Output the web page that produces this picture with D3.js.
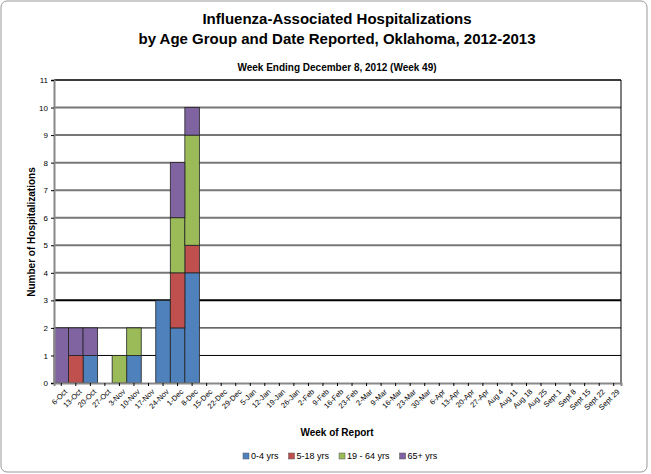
<!DOCTYPE html>
<html><head><meta charset="utf-8">
<script src="https://cdn.jsdelivr.net/npm/d3@7/dist/d3.min.js"></script>
<style>body{margin:0;background:#fff;font-family:Arial,"Liberation Sans",sans-serif}</style>
</head><body>
<svg id="c" width="651" height="474"></svg>
<script>
const weeks = ['6-Oct','13-Oct','20-Oct','27-Oct','3-Nov','10-Nov','17-Nov','24-Nov','1-Dec','8-Dec','15-Dec','22-Dec','29-Dec',
  '5-Jan','12-Jan','19-Jan','26-Jan','2-Feb','9-Feb','16-Feb','23-Feb','2-Mar','9-Mar','16-Mar','23-Mar','30-Mar',
  '6-Apr','13-Apr','20-Apr','27-Apr','Aug 4','Aug 11','Aug 18','Aug 25','Sept 1','Sept 8','Sept 15','Sept 22','Sept 29'];
// counts per week: [0-4, 5-18, 19-64, 65+]
const counts = {
  '6-Oct': [0,0,0,2], '13-Oct': [0,1,0,1], '20-Oct': [1,0,0,1], '3-Nov': [0,0,1,0],
  '10-Nov': [1,0,1,0], '24-Nov': [3,0,0,0], '1-Dec': [2,2,2,2], '8-Dec': [4,1,4,1]
};
const keys = ['0-4 yrs','5-18 yrs','19 - 64 yrs','65+ yrs'];
const colors = ['#4f81bd','#c0504d','#9bbb59','#8064a2'];
const data = weeks.map(w => { const c = counts[w] || [0,0,0,0]; const o = {week: w}; keys.forEach((k,i) => o[k] = c[i]); return o; });

const svg = d3.select('#c');
svg.append('rect').attr('x',1).attr('y',1).attr('width',646).attr('height',471).attr('rx',6)
  .style('fill','#fff').style('stroke','#999');

svg.append('text').attr('x',337).attr('y',24).attr('text-anchor','middle').style('font-size','15px').style('font-weight','bold').text('Influenza-Associated Hospitalizations');
svg.append('text').attr('x',337).attr('y',44).attr('text-anchor','middle').style('font-size','15px').style('font-weight','bold').text('by Age Group and Date Reported, Oklahoma, 2012-2013');
svg.append('text').attr('x',337).attr('y',71).attr('text-anchor','middle').style('font-size','10px').style('font-weight','bold').text('Week Ending December 8, 2012 (Week 49)');

const L = 54, R = 621, T = 80, B = 383;
const x = d3.scaleBand().domain(weeks).range([L, R]).padding(0);
const y = d3.scaleLinear().domain([0, 11]).range([B, T]);

// gridlines
y.ticks(11).forEach(v => {
  if (v === 0) return;
  svg.append('line').attr('x1', L).attr('x2', R).attr('y1', y(v)).attr('y2', y(v))
    .style('stroke', v <= 3 ? '#000' : '#777')
    .style('stroke-width', v === 3 ? 2 : (v <= 2 ? 1 : 2));
});
svg.append('line').attr('x1', L).attr('x2', R).attr('y1', T).attr('y2', T).style('stroke','#000');
svg.append('line').attr('x1', R).attr('x2', R).attr('y1', T).attr('y2', B).style('stroke','#000');

const stack = d3.stack().keys(keys)(data);
svg.append('g').selectAll('g').data(stack).join('g').style('fill', (d,i) => colors[i])
  .selectAll('rect').data(d => d.filter(p => p[1] > p[0])).join('rect')
  .attr('x', d => x(d.data.week)).attr('width', x.bandwidth())
  .attr('y', d => y(d[1])).attr('height', d => y(d[0]) - y(d[1]))
  .style('stroke', '#222').style('stroke-width', 0.8);

const ya = svg.append('g').attr('transform', `translate(${L},0)`).call(d3.axisLeft(y).ticks(11).tickSize(3));
ya.selectAll('text').style('font-size','8px').style('font-family','Arial').style('fill','#000');
ya.select('.domain').style('stroke','#888').style('stroke-width',2);

const xa = svg.append('g').attr('transform', `translate(0,${B})`).call(d3.axisBottom(x).tickSize(3));
xa.selectAll('text').style('font-size','7.5px').style('font-family','Arial').style('fill','#000')
  .attr('text-anchor','end').attr('dx','-2').attr('dy','5').attr('transform','rotate(-45)');
xa.select('.domain').style('stroke','#888').style('stroke-width',2);

svg.append('text').attr('x',337).attr('y',436).attr('text-anchor','middle').style('font-size','10px').style('font-weight','bold').text('Week of Report');
svg.append('text').attr('transform','translate(35,232) rotate(-90)').attr('text-anchor','middle').style('font-size','10px').style('font-weight','bold').text('Number of Hospitalizations');

const lg = svg.append('g').attr('transform','translate(243,459)');
let lx = 0;
keys.forEach((k,i) => {
  lg.append('rect').attr('x', lx).attr('y', -6).attr('width', 6).attr('height', 6).style('fill', colors[i]).style('stroke','#555').style('stroke-width',0.5);
  const t = lg.append('text').attr('x', lx + 8).attr('y', 0).style('font-size','9px').text(k);
  lx += t.node().getComputedTextLength() + 18;
});
</script>
</body></html>
